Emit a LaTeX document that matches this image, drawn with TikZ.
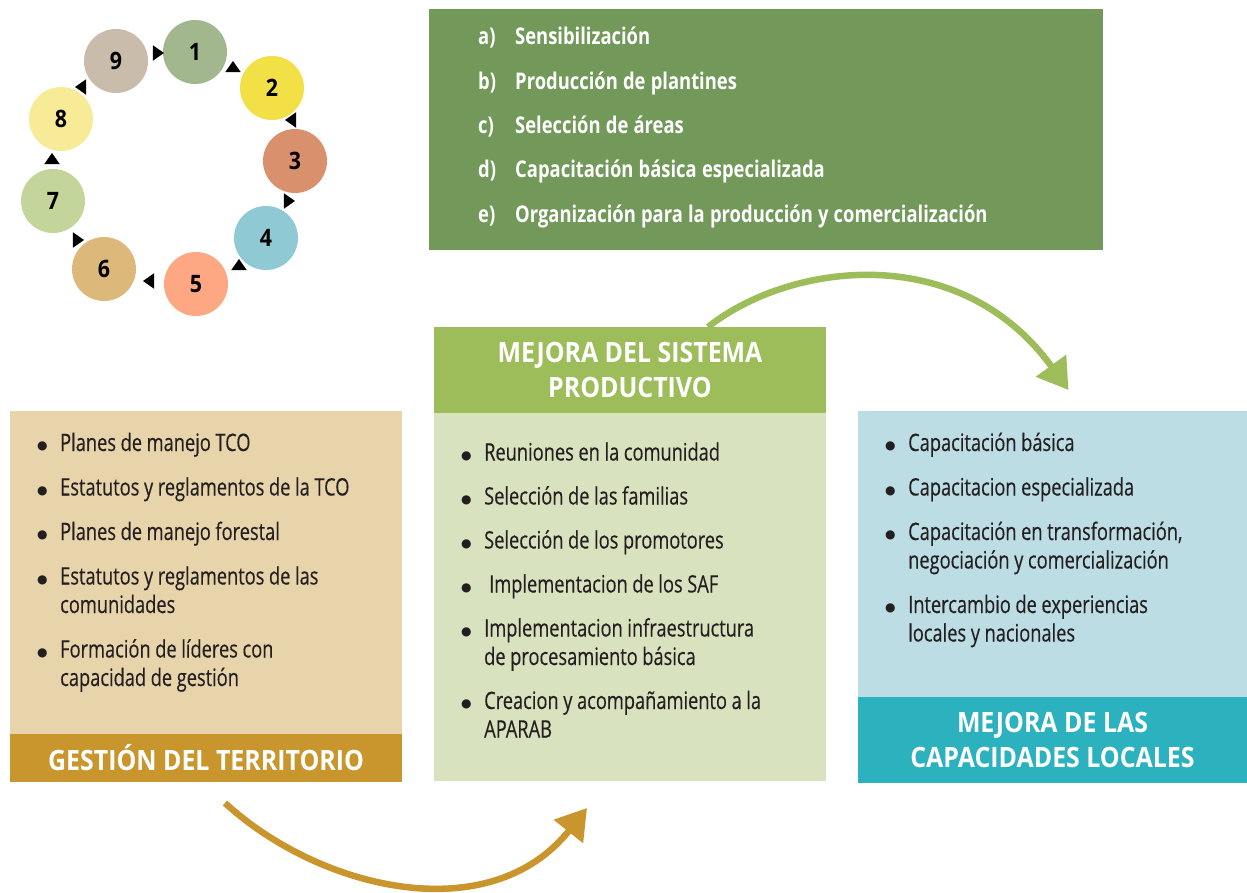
\documentclass[tikz,border=0pt]{standalone}
\usepackage{fontspec}
\setmainfont{Open Sans}[FakeStretch=0.76, UprightFeatures={FakeBold=0.3}]
\newfontfamily\headfont{Open Sans}[FakeStretch=0.89]
\newfontfamily\listfont{Open Sans}[FakeStretch=0.8]
\newfontfamily\symfont{DejaVu Sans}
\usetikzlibrary{arrows.meta,shapes.geometric}
\definecolor{ink}{HTML}{231F20}
\definecolor{topgreen}{HTML}{72985A}
\definecolor{prohead}{HTML}{9DBD5A}
\definecolor{probody}{HTML}{D9E2BE}
\definecolor{terrbody}{HTML}{E8D4AA}
\definecolor{terrbar}{HTML}{C9962E}
\definecolor{capbody}{HTML}{BDDDE4}
\definecolor{capbar}{HTML}{2CB1BE}
\definecolor{cA}{HTML}{A3B78F}
\definecolor{cB}{HTML}{F2E046}
\definecolor{cC}{HTML}{D9906C}
\definecolor{cD}{HTML}{8EC9D4}
\definecolor{cE}{HTML}{FDA783}
\definecolor{cF}{HTML}{DCB97A}
\definecolor{cG}{HTML}{C3D59A}
\definecolor{cH}{HTML}{F8EB98}
\definecolor{cI}{HTML}{C9BCAB}
\newcommand\tight[1]{\spaceskip=#1 plus 1pt minus 1pt\relax}
\newcommand\itm{\par\noindent\llap{\raisebox{1.5pt}{\symfont\fontsize{12}{0}\selectfont ●}\hspace{12.5pt}}}
\tikzset{
  panel/.style={anchor=north west, inner sep=0pt, outer sep=0pt},
  blist/.style={anchor=base west, inner sep=0pt, text width=#1, align=left,
    text=ink, font=\fontsize{24}{28.5}\selectfont},
  bandtxt/.style={text=white, align=center, font=\headfont\bfseries\fontsize{28}{35}\selectfont},
  cyc/.style={circle, minimum size=64pt, inner sep=0pt, font=\headfont\bfseries\fontsize{24}{24}\selectfont},
  tip/.style={isosceles triangle, isosceles triangle apex angle=70, fill=black,
    minimum size=11pt, inner sep=0pt},
  bigarrow/.style={line width=6.5pt, -{Triangle[length=30pt,width=36pt]}}
}
\begin{document}
\begin{tikzpicture}[x=1pt,y=-1pt]
\useasboundingbox (0,0) rectangle (1247,893);
\fill[white] (0,0) rectangle (1247,893);
% ciclo
\foreach \n/\x/\y/\c in {1/195/52/cA,2/272/88/cB,3/295/161/cC,4/266/238/cD,5/196/284/cE,
  6/104/269/cF,7/53/201/cG,8/61/119/cH,9/116/61/cI}
  \node[cyc, fill=\c] (c\n) at (\x,\y) {\n};
\foreach \a/\b/\x/\y/\r in {9/1/157/53/0,1/2/233/68/80,2/3/292/120/190,3/4/288/201/-20,
  4/5/239/266/80,5/6/150/281/180,6/7/77/240/5,7/8/52/160/95,8/9/82/87/160}
  \node[tip, shape border rotate=\r] (t\a\b) at (\x,\y) {};
% pasos
\node[panel, fill=topgreen, minimum width=674pt, minimum height=241pt] (steps) at (429,9) {};
\node[blist=600pt, text=white, font=\listfont\bfseries\fontsize{23}{44.3}\selectfont] (stepsl) at (478,45)
  {\tight{5.2pt}\makebox[37pt][l]{a)}Sensibilización\\
   \makebox[37pt][l]{b)}Producción de plantines\\
   \makebox[37pt][l]{c)}Selección de áreas\\
   \makebox[37pt][l]{d)}Capacitación básica especializada\\
   \makebox[37pt][l]{e)}Organización para la producción y comercialización};
% territorio
\node[panel, fill=terrbody, minimum width=392pt, minimum height=323pt] (terr) at (10,411) {};
\node[panel, fill=terrbar, minimum width=392pt, minimum height=48pt, bandtxt] (terrbar)
  at (terr.south west) {GESTIÓN DEL TERRITORIO};
\node[blist=330pt] (terrl) at (60,406.5) {\parskip=16pt \tight{4.6pt}
  \itm Planes de manejo TCO
  \itm Estatutos y reglamentos de la TCO
  \itm Planes de manejo forestal
  \itm Estatutos y reglamentos de las\newline comunidades
  \itm Formación de líderes con\newline capacidad de gestión};
% sistema productivo
\node[panel, fill=prohead, minimum width=392pt, minimum height=86pt, bandtxt] (prohd)
  at (434,327) {MEJORA DEL SISTEMA\\PRODUCTIVO};
\node[panel, fill=probody, minimum width=392pt, minimum height=368pt] (pro) at (prohd.south west) {};
\node[blist=330pt] (prol) at (484,416.5) {\parskip=15.5pt \tight{4.6pt}
  \itm Reuniones en la comunidad
  \itm Selección de las familias
  \itm Selección de los promotores
  \itm \hspace{5pt}Implementacion de los SAF
  \itm Implementacion infraestructura\newline de procesamiento básica
  \itm Creacion y acompañamiento a la\newline APARAB};
% capacidades
\node[panel, fill=capbody, minimum width=389pt, minimum height=286pt] (cap) at (858,411) {};
\node[panel, fill=capbar, minimum width=389pt, minimum height=86pt, bandtxt] (capbar)
  at (cap.south west) {MEJORA DE LAS\\CAPACIDADES LOCALES};
\node[blist=330pt] (capl) at (908,406.5) {\parskip=16pt \tight{4.6pt}
  \itm Capacitación básica
  \itm Capacitacion especializada
  \itm Capacitación en transformación,\newline negociación y comercialización
  \itm Intercambio de experiencias\newline locales y nacionales};
% flechas
\draw[bigarrow, prohead] ([xshift=78pt]prohd.north) .. controls (790,262) and (960,240)
  .. ([xshift=16pt,yshift=21pt]cap.north);
\draw[bigarrow, terrbar] ([xshift=19pt,yshift=-21pt]terrbar.south) .. controls (320,890) and (490,930)
  .. ([xshift=-43pt,yshift=-27pt]pro.south);
\end{tikzpicture}
\end{document}
